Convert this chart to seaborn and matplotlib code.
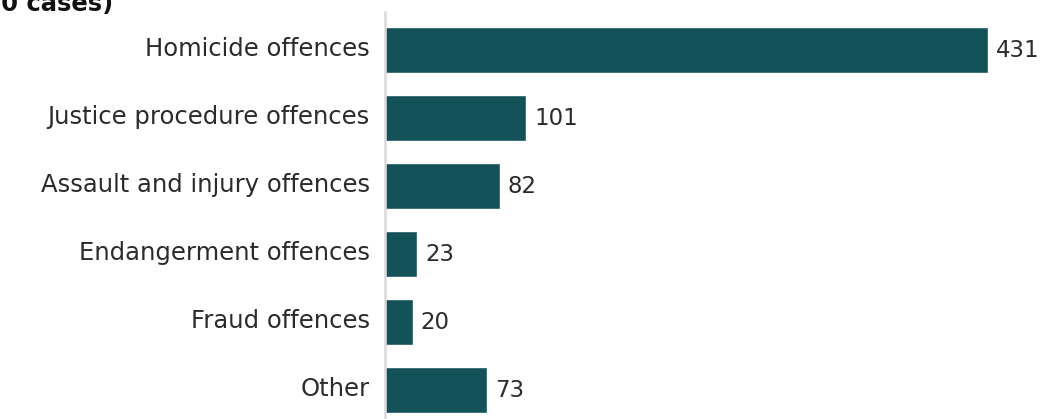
import seaborn as sns
import matplotlib.pyplot as plt
import matplotlib.transforms as mtransforms
import pandas as pd

categories = ["Homicide offences", "Justice procedure offences", "Assault and injury offences",
              "Endangerment offences", "Fraud offences", "Other"]
cases = [431, 101, 82, 23, 20, 73]
title = "Offence types (n = 730 cases)"

bar_color = "#14525a"
text_color = "#2b2b2b"

sns.set_theme(style="white")
plt.rcParams["font.family"] = ["DejaVu Sans"]

df = pd.DataFrame({"category": categories, "cases": cases})

W, H = 1042, 419
fig = plt.figure(figsize=(W / 100, H / 100), dpi=100)
ax = fig.add_axes([385 / W, 0, 1 - 385 / W, 1 - 12 / H])

sns.barplot(data=df, x="cases", y="category", color=bar_color, width=0.68,
            saturation=1, ax=ax)

ax.set_xlim(0, (W - 385) / 1.4)
ax.set_ylim(5.426, -0.559)

for i, v in enumerate(cases):
    ax.text(v + 5.5, i, str(v), va="center", ha="left", fontsize=16.5, color=text_color)

ax.set_xlabel("")
ax.set_ylabel("")
ax.set_xticks([])
ax.tick_params(axis="y", length=0, pad=11, labelsize=17.5, labelcolor=text_color)
# nudge category labels up a little
shift = mtransforms.ScaledTranslation(0, 4 / 100, fig.dpi_scale_trans)
for lbl in ax.get_yticklabels():
    lbl.set_transform(lbl.get_transform() + shift)
for s in ["top", "right", "bottom"]:
    ax.spines[s].set_visible(False)
ax.spines["left"].set_color("#d9d9d9")
ax.spines["left"].set_linewidth(1.8)

fig.text(113 / W, 1 - 11 / H, title, ha="right", va="baseline", fontsize=17.5,
         fontweight="bold", color="#111111")

fig.savefig("out.png", dpi=100)
